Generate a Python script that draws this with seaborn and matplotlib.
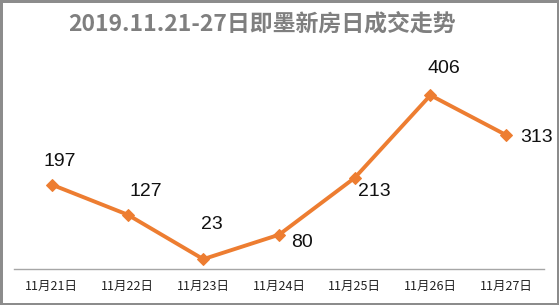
import matplotlib
matplotlib.use("Agg")
import matplotlib.pyplot as plt
import seaborn as sns
import pandas as pd

categories = ["11月21日", "11月22日", "11月23日", "11月24日", "11月25日", "11月26日", "11月27日"]
values = [197, 127, 23, 80, 213, 406, 313]
title = "2019.11.21-27日即墨新房日成交走势"

sns.set_theme(style="white")
plt.rcParams['font.family'] = ['Noto Sans CJK SC', 'DejaVu Sans']

df = pd.DataFrame({"day": categories, "count": values})

fig = plt.figure(figsize=(5.59, 3.05), dpi=100)
fig.patch.set_facecolor("white")
fig.patch.set_edgecolor("#8c8c8c")
fig.patch.set_linewidth(2.5)

ax = fig.add_axes([14/559, 36/305, 530/559, 214/305])
x = list(range(len(categories)))
sns.lineplot(x=x, y=df["count"], ax=ax, color="#ED7D31", linewidth=2.8,
             marker="D", markersize=6, markeredgecolor="#ED7D31")
ax.set_xlim(-0.5, len(categories) - 0.5)
ax.set_ylim(0, 500)
ax.set_xticks(x)
ax.set_xticklabels(categories, fontsize=9, color="#222222")
ax.set_yticks([])
ax.set_xlabel("")
ax.set_ylabel("")
ax.tick_params(axis="x", length=0, pad=8)
for s in ["top", "right", "left"]:
    ax.spines[s].set_visible(False)
ax.spines["bottom"].set_color("#a6a6a6")
ax.spines["bottom"].set_linewidth(1)

offsets = [(8, 23), (18, 23), (9, 35), (23, -8), (20, -14), (13, 27), (30, -2)]
for xi, v, off in zip(x, values, offsets):
    ax.annotate(str(v), (xi, v), xytext=off, textcoords="offset pixels",
                ha="center", va="center", fontsize=14, color="#111111",
                family=["Liberation Sans", "DejaVu Sans"])

fig.text(262/559, 1 - 24/305, title, ha="center", va="center",
         fontsize=16.5, fontweight="bold", color="#7f7f7f")

fig.savefig("out.png", dpi=100)
